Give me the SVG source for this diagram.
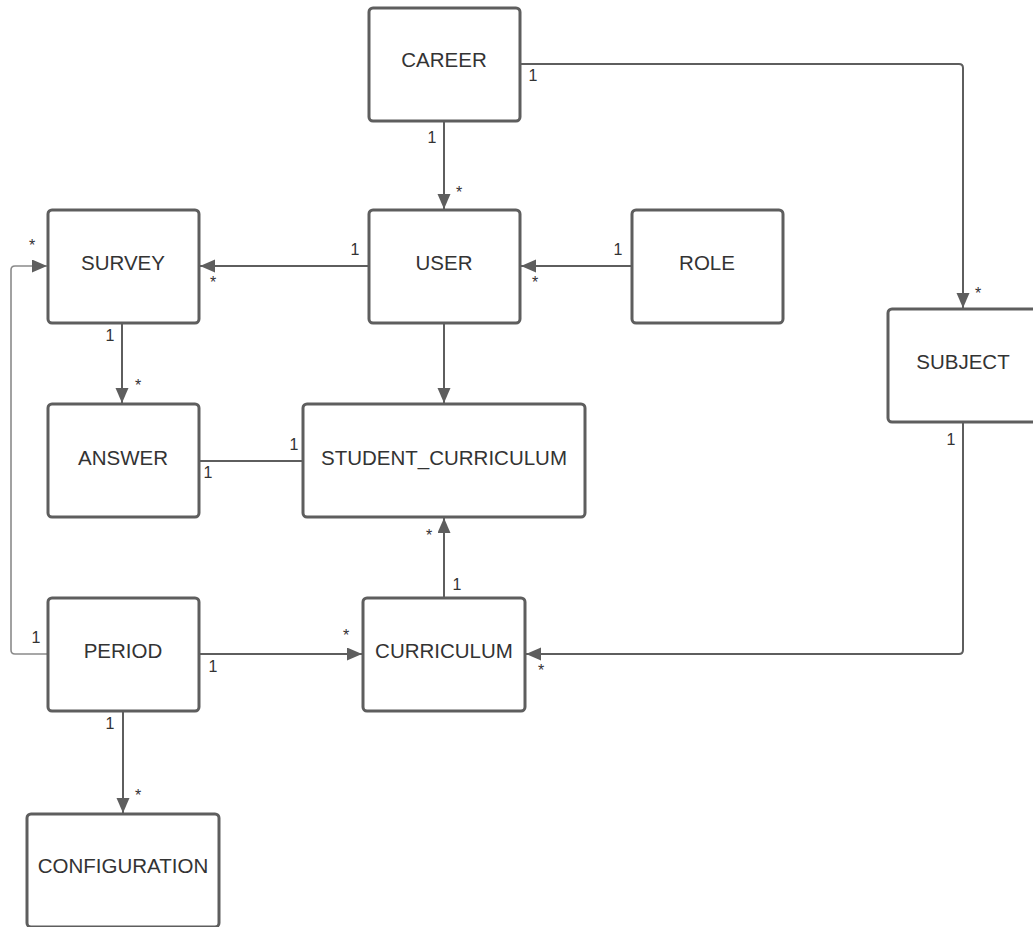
<svg xmlns="http://www.w3.org/2000/svg" width="1033" height="927" viewBox="0 0 1033 927">
  <style>
    .box { fill: #ffffff; stroke: #5e5e5e; stroke-width: 3; }
    .name { font-family: "Liberation Sans", Arial, sans-serif; font-size: 20.5px; fill: #333333; text-anchor: middle; }
    .link { fill: none; stroke: #5e5e5e; stroke-width: 2; }
    .link-light { fill: none; stroke: #8a8a8a; stroke-width: 1.6; }
    .mult { font-family: "Liberation Sans", Arial, sans-serif; font-size: 16px; fill: #333333; text-anchor: middle; }
  </style>
  <defs>
    <marker id="arrow" markerUnits="userSpaceOnUse" markerWidth="16" markerHeight="14" refX="15" refY="6.5" orient="auto">
      <path d="M0,0 L15,6.5 L0,13 Z" fill="#5e5e5e"/>
    </marker>
  </defs>
  <rect width="1033" height="927" fill="#ffffff"/>

  <!-- associations -->
  <g id="connectors">
    <path class="link" d="M444,121 V209" marker-end="url(#arrow)"/>
    <path class="link" d="M520,64 H959 Q963,64 963,68 V308" marker-end="url(#arrow)"/>
    <path class="link" d="M369,266 H200" marker-end="url(#arrow)"/>
    <path class="link" d="M632,266 H521" marker-end="url(#arrow)"/>
    <path class="link" d="M444,323 V403" marker-end="url(#arrow)"/>
    <path class="link" d="M122,323 V403" marker-end="url(#arrow)"/>
    <path class="link" d="M199,461 H303"/>
    <path class="link" d="M444,598 V518" marker-end="url(#arrow)"/>
    <path class="link" d="M963,422 V650 Q963,654 959,654 H526" marker-end="url(#arrow)"/>
    <path class="link-light" d="M48,654 H15 Q11,654 11,650 V270 Q11,266 15,266 H47" marker-end="url(#arrow)"/>
    <path class="link" d="M199,654 H362" marker-end="url(#arrow)"/>
    <path class="link" d="M123,711 V813" marker-end="url(#arrow)"/>

    <!-- multiplicities -->
    <text class="mult" x="432" y="143">1</text>
    <text class="mult" x="459" y="198">*</text>
    <text class="mult" x="533" y="81">1</text>
    <text class="mult" x="978" y="299">*</text>
    <text class="mult" x="355" y="255">1</text>
    <text class="mult" x="213" y="288">*</text>
    <text class="mult" x="618" y="255">1</text>
    <text class="mult" x="535" y="288">*</text>
    <text class="mult" x="110" y="341">1</text>
    <text class="mult" x="138" y="391">*</text>
    <text class="mult" x="294" y="450">1</text>
    <text class="mult" x="208" y="478">1</text>
    <text class="mult" x="429" y="541">*</text>
    <text class="mult" x="457" y="590">1</text>
    <text class="mult" x="951" y="445">1</text>
    <text class="mult" x="541" y="676">*</text>
    <text class="mult" x="36" y="643">1</text>
    <text class="mult" x="32" y="251">*</text>
    <text class="mult" x="213" y="672">1</text>
    <text class="mult" x="346" y="641">*</text>
    <text class="mult" x="110" y="729">1</text>
    <text class="mult" x="138" y="801">*</text>
  </g>

  <!-- entities -->
  <g id="career">
    <rect class="box" x="369" y="8" width="151" height="113" rx="4"/>
    <text class="name" x="444" y="67">CAREER</text>
  </g>
  <g id="user">
    <rect class="box" x="369" y="210" width="151" height="113" rx="4"/>
    <text class="name" x="444" y="270">USER</text>
  </g>
  <g id="survey">
    <rect class="box" x="48" y="210" width="151" height="113" rx="4"/>
    <text class="name" x="123" y="270">SURVEY</text>
  </g>
  <g id="role">
    <rect class="box" x="632" y="210" width="151" height="113" rx="4"/>
    <text class="name" x="707" y="270">ROLE</text>
  </g>
  <g id="subject">
    <rect class="box" x="888" y="309" width="151" height="113" rx="4"/>
    <text class="name" x="963" y="369">SUBJECT</text>
  </g>
  <g id="answer">
    <rect class="box" x="48" y="404" width="151" height="113" rx="4"/>
    <text class="name" x="123" y="465">ANSWER</text>
  </g>
  <g id="student_curriculum">
    <rect class="box" x="303" y="404" width="282" height="113" rx="4"/>
    <text class="name" x="444" y="465">STUDENT_CURRICULUM</text>
  </g>
  <g id="period">
    <rect class="box" x="48" y="598" width="151" height="113" rx="4"/>
    <text class="name" x="123" y="658">PERIOD</text>
  </g>
  <g id="curriculum">
    <rect class="box" x="363" y="598" width="162" height="113" rx="4"/>
    <text class="name" x="444" y="658">CURRICULUM</text>
  </g>
  <g id="configuration">
    <rect class="box" x="27" y="814" width="192" height="113" rx="4"/>
    <text class="name" x="123" y="873">CONFIGURATION</text>
  </g>
</svg>
